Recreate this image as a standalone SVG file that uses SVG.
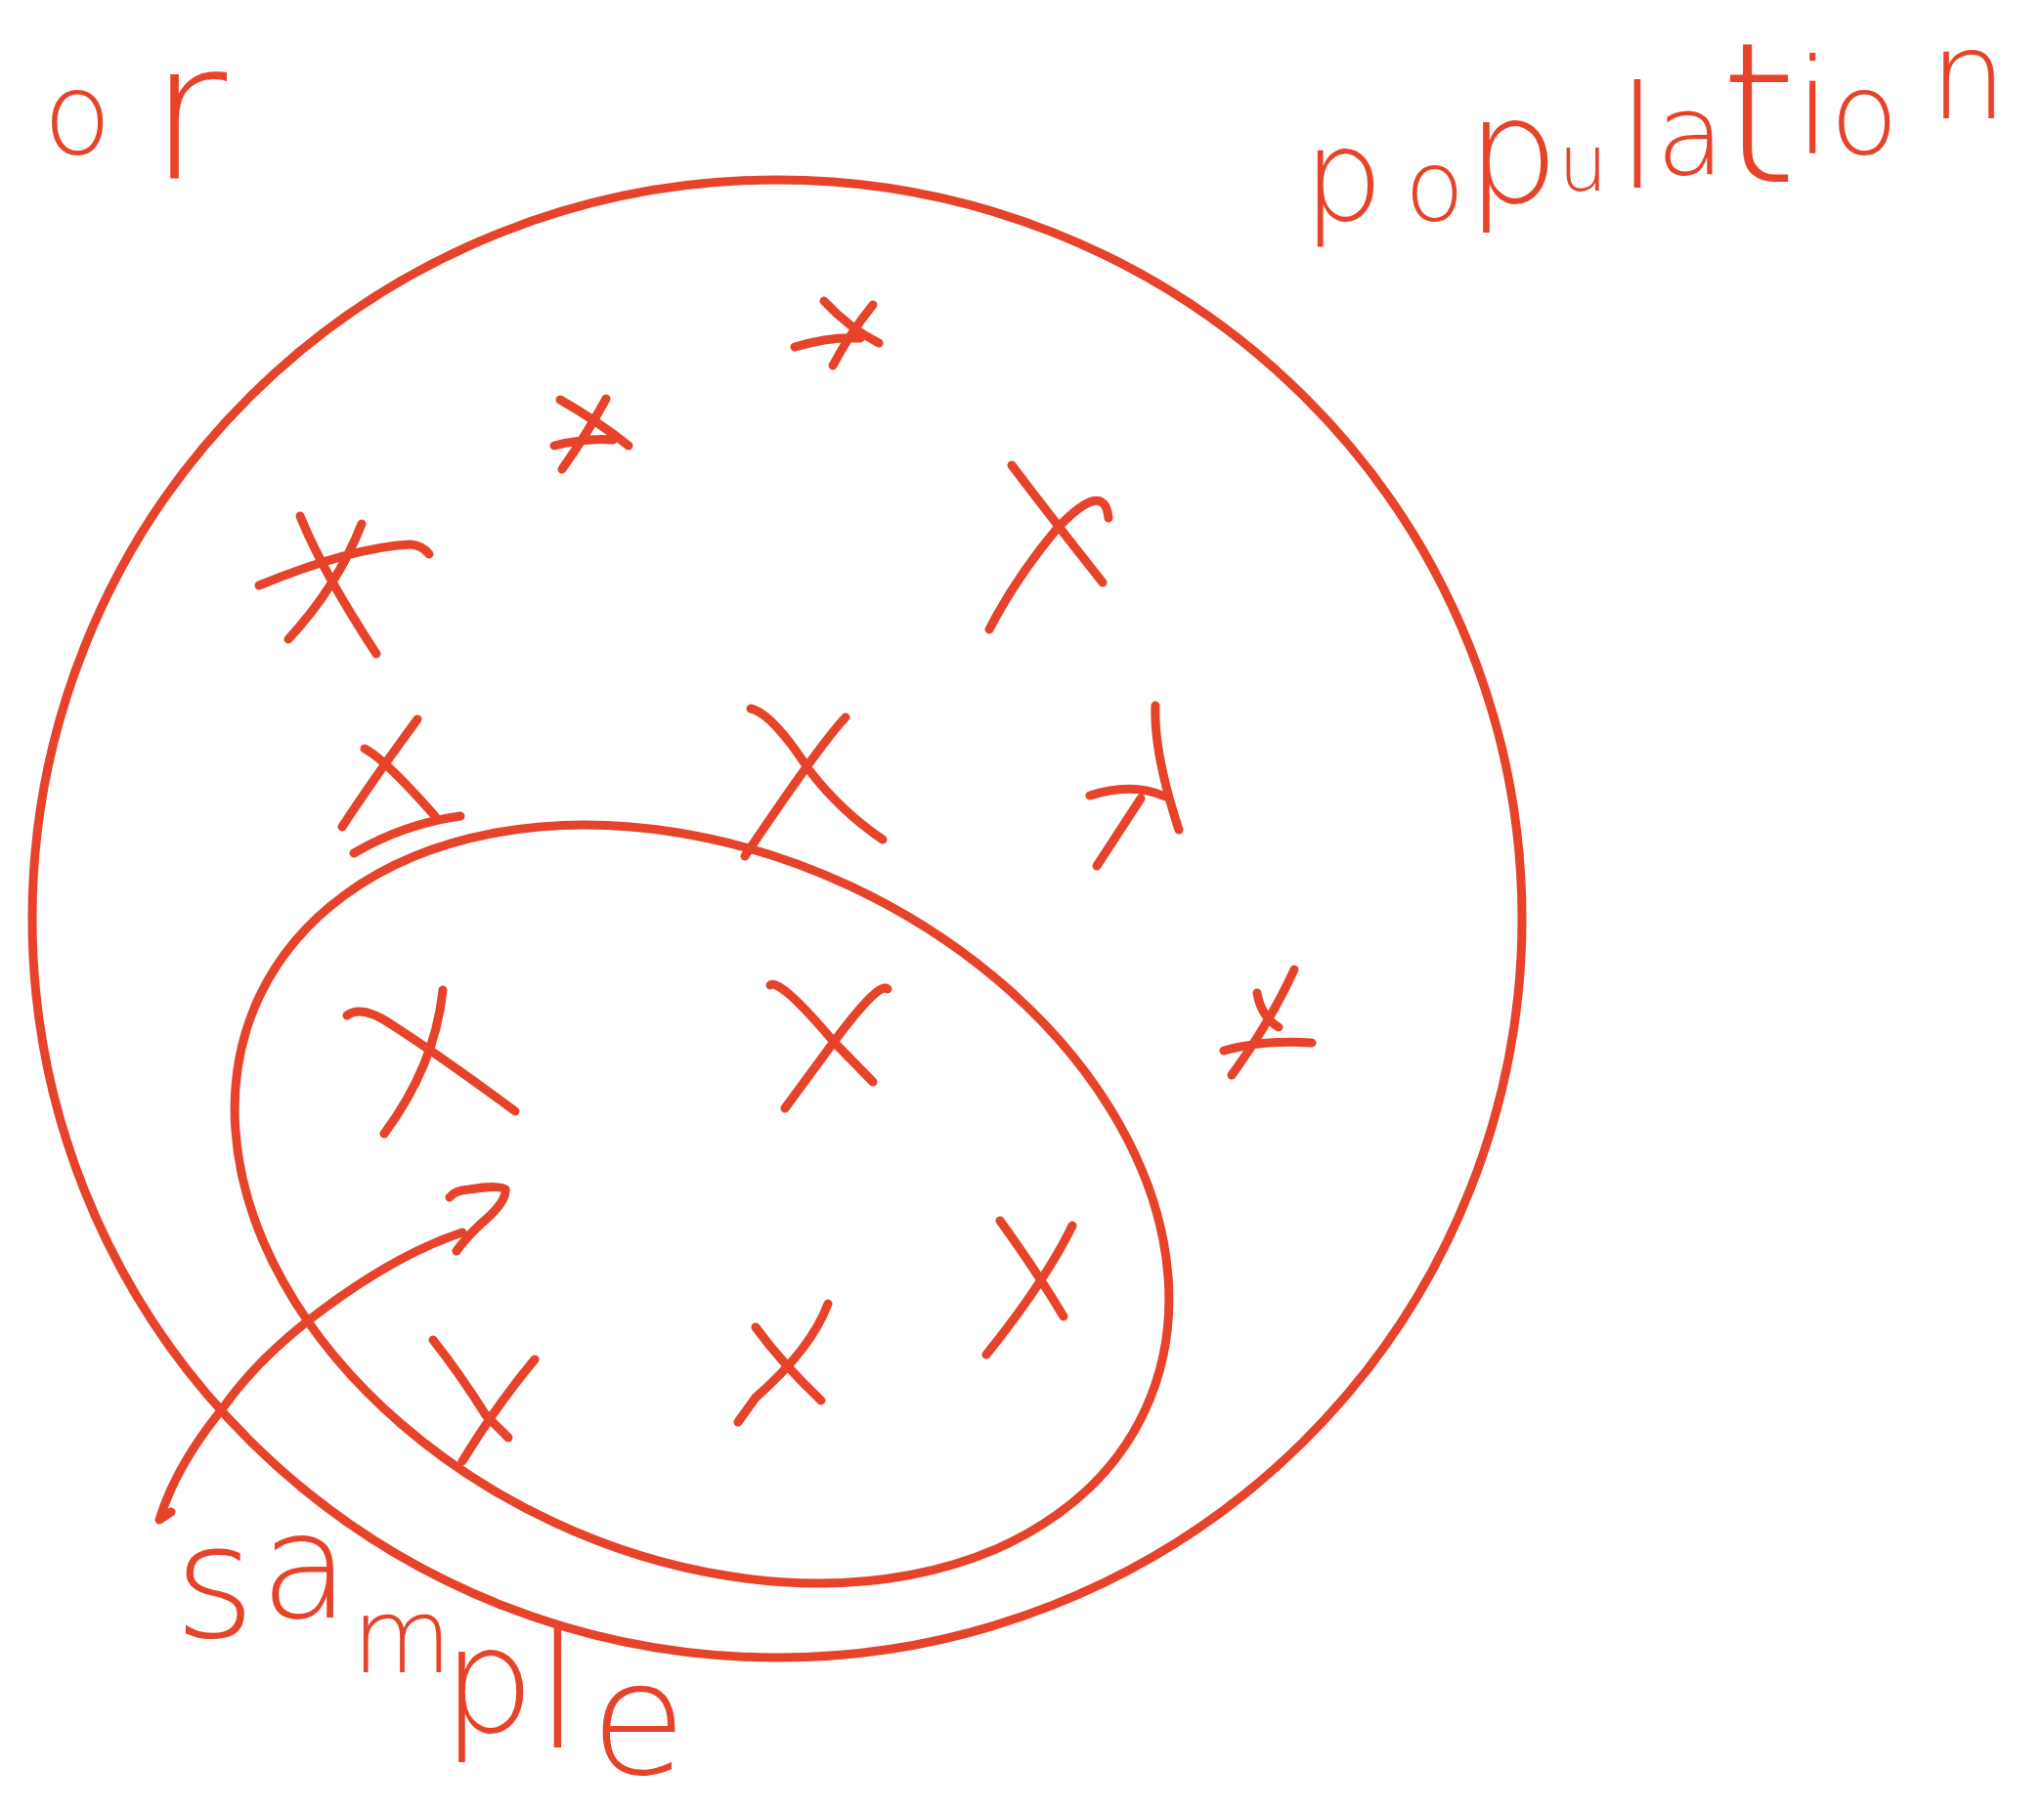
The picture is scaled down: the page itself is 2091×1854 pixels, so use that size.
<svg xmlns="http://www.w3.org/2000/svg" width="2091" height="1854" viewBox="0 0 2091 1854">
<style>
.ink{fill:none;stroke:#E6432A;stroke-width:9;stroke-linecap:round;stroke-linejoin:round}
.hw{fill:#E6432A;font-family:"DejaVu Sans","Liberation Sans",sans-serif;font-weight:200}
</style>
<rect width="2091" height="1854" fill="#fff"/>
<g id="population-set">
<ellipse class="ink" cx="795" cy="940" rx="762" ry="756"/>
</g>
<g id="sample-set">
<ellipse class="ink" cx="718" cy="1232" rx="500" ry="359" transform="rotate(25 718 1232)"/>
</g>
<g id="marks">
<g id="m1"><path class="ink" d="M843,308 Q869,336 899,351 M893,312 Q870,340 852,374 M813,355 Q850,344 880,346"/></g>
<g id="m2"><path class="ink" d="M573,409 Q610,430 643,456 M620,408 Q600,445 575,480 M567,456 Q600,448 627,450"/></g>
<g id="m3"><path class="ink" d="M307,528 Q330,585 385,669 M370,536 Q345,600 295,654 M265,599 Q360,560 420,557 Q432,558 439,567"/></g>
<g id="m4"><path class="ink" d="M427,736 Q380,800 350,846 M373,766 Q393,776 445,835 M362,873 Q413,843 471,835"/></g>
<g id="m5"><path class="ink" d="M768,725 Q790,730 827,787 Q860,830 903,859 M865,734 Q840,760 762,876"/></g>
<g id="m6"><path class="ink" d="M1035,476 Q1082,538 1128,596 M1134,530 Q1130,490 1082,540 Q1040,590 1012,644"/></g>
<g id="m7"><path class="ink" d="M1182,722 Q1180,770 1206,849 M1115,814 Q1158,800 1192,815 M1167,817 L1122,886"/></g>
<g id="m8"><path class="ink" d="M1324,992 Q1300,1045 1260,1100 M1286,1016 Q1290,1040 1308,1051 M1252,1075 Q1290,1064 1342,1067"/></g>
<g id="s1"><path class="ink" d="M355,1039 Q370,1028 400,1048 Q450,1080 527,1137 M453,1013 Q445,1090 393,1160"/></g>
<g id="s2"><path class="ink" d="M788,1008 Q797,1000 853,1066 L893,1107 M908,1012 Q900,1003 853,1066 L803,1134"/></g>
<g id="s3"><path class="ink" d="M443,1371 Q470,1405 497,1448 L520,1471 M547,1391 Q510,1435 473,1495"/></g>
<g id="s4"><path class="ink" d="M773,1358 Q800,1395 840,1433 M847,1334 Q830,1380 773,1430 L755,1455"/></g>
<g id="s5"><path class="ink" d="M1023,1249 Q1060,1300 1088,1347 M1097,1254 Q1070,1310 1009,1386"/></g>
</g>
<g id="connectors">
<path class="ink" d="M175,1547 L163,1555 Q180,1500 227,1442 Q260,1395 313,1353 Q400,1285 473,1261"/>
<path class="ink" d="M460,1225 Q465,1218 480,1217 Q510,1212 517,1217 Q518,1228 500,1245 Q480,1262 467,1280"/>
</g>
<g id="label-or">
<text class="hw"><tspan x="44" y="157" font-size="115">o</tspan><tspan x="152" y="182" font-size="195">r</tspan></text>
</g>
<g id="label-population">
<text class="hw"><tspan x="1333" y="225" font-size="130">p</tspan><tspan x="1437" y="225" font-size="100">o</tspan><tspan x="1500" y="207" font-size="150">p</tspan><tspan x="1594" y="195" font-size="80">u</tspan><tspan x="1655" y="192" font-size="147">l</tspan><tspan x="1694" y="178" font-size="115">a</tspan><tspan x="1760" y="186" font-size="200">t</tspan><tspan x="1836" y="157" font-size="135">i</tspan><tspan x="1872" y="157" font-size="115">o</tspan><tspan x="1974" y="121" font-size="125">n</tspan></text>
</g>
<g id="label-sample">
<text class="hw" font-size="160"><tspan x="178" y="1675">s</tspan><tspan x="266" y="1655" font-size="150">a</tspan><tspan x="360" y="1711" font-size="105">m</tspan><tspan x="452" y="1772" font-size="150">p</tspan><tspan x="548" y="1788" font-size="165">l</tspan><tspan x="604" y="1815" font-size="160">e</tspan></text>
</g>
</svg>
